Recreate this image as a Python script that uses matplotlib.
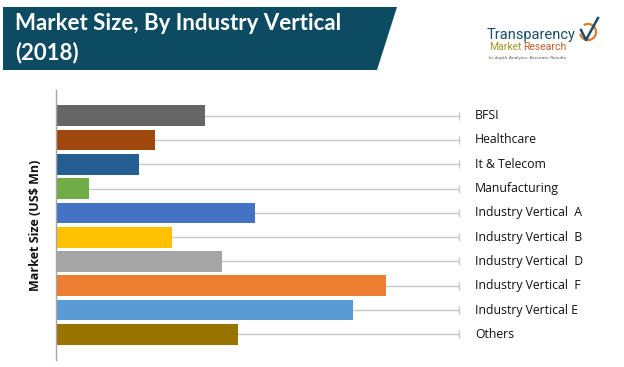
import matplotlib
matplotlib.use("Agg")
import matplotlib.pyplot as plt
from matplotlib.patches import Polygon, Arc

categories = ["BFSI", "Healthcare", "It & Telecom", "Manufacturing", "Industry Vertical  A",
              "Industry Vertical  B", "Industry Vertical  D", "Industry Vertical  F",
              "Industry Vertical E", "Others"]
values = [149, 99, 83, 33, 199, 116, 166, 331, 298, 182]
colors = ["#666666", "#9e480e", "#255e91", "#70ad47", "#4472c4",
          "#ffc000", "#a5a5a5", "#ed7d31", "#5b9bd5", "#997300"]
title_lines = ["Market Size, By Industry Vertical", "(2018)"]
ylabel = "Market Size (US$ Mn)"

W, H = 624, 367
fig = plt.figure(figsize=(W / 100, H / 100), dpi=100)

def fx(px):
    return px / W

def fy(py):
    return 1 - py / H

# Title banner
banner = Polygon([(fx(3), fy(7)), (fx(397), fy(7)), (fx(377), fy(70)), (fx(3), fy(70))],
                 closed=True, transform=fig.transFigure, facecolor="#0d4b62", edgecolor="none")
fig.patches.append(banner)
fig.text(fx(15), fy(23), title_lines[0], color="white", fontsize=16, fontweight="bold",
         family="Lato", va="center", ha="left")
fig.text(fx(15), fy(53), title_lines[1], color="white", fontsize=16, fontweight="bold",
         family="Lato", va="center", ha="left")

# Logo
fig.text(fx(487), fy(35), "Transparency", color="#1c4e66", fontsize=10.5, family="Roboto",
         va="center", ha="left")
t1 = fig.text(fx(489), fy(47), "Market", color="#a59a2c", fontsize=7.5, family="Roboto",
              va="center", ha="left")
fig.canvas.draw()
bb = t1.get_window_extent()
fig.text((bb.x1 + 2) / W, fy(47), "Research", color="#c55a28", fontsize=7.5, family="Roboto",
         va="center", ha="left")
fig.text(fx(489), fy(58), "In-depth Analysis. Accurate Results", color="#555555", fontsize=3.2,
         family="DejaVu Sans", va="center", ha="left")
fig.add_artist(Arc((fx(588), fy(32)), fx(16), 16 / H, theta1=200, theta2=110,
                   transform=fig.transFigure, color="#e07b2e", lw=1.6))
fig.add_artist(plt.Line2D([fx(581), fx(586), fx(598)], [fy(30), fy(40), fy(18)],
                          transform=fig.transFigure, color="#1c4e66", lw=1.8))

# Chart
ax = fig.add_axes([fx(56), fy(360), fx(460) - fx(56), (360 - 90) / H])
pos = list(range(len(categories)))
xmax = 404
ax.hlines(pos, 0, xmax, colors="#c8c8c8", lw=1.0, zorder=1)
ax.plot([xmax] * len(pos), pos, linestyle="none", marker="|", markersize=6,
        color="#c8c8c8", zorder=1)
ax.barh(pos, values, height=0.85, color=colors, zorder=2)
ax.set_ylim(10.05, -1.05)
ax.set_xlim(0, xmax + 1)
for s in ["top", "right", "bottom"]:
    ax.spines[s].set_visible(False)
ax.spines["left"].set_color("#a6a6a6")
ax.spines["left"].set_linewidth(1.0)
ax.set_xticks([])
ax.set_yticks([])
for p, c in zip(pos, categories):
    ax.text(xmax + 16, p, c, fontsize=8.8, family="Open Sans", color="#111111",
            va="center", ha="left", clip_on=False)

fig.text(fx(36), fy(225), ylabel, rotation=90, fontsize=9, fontweight="bold",
         family="Open Sans", va="center", ha="center", color="#111111")

fig.savefig("out.png", dpi=100)
